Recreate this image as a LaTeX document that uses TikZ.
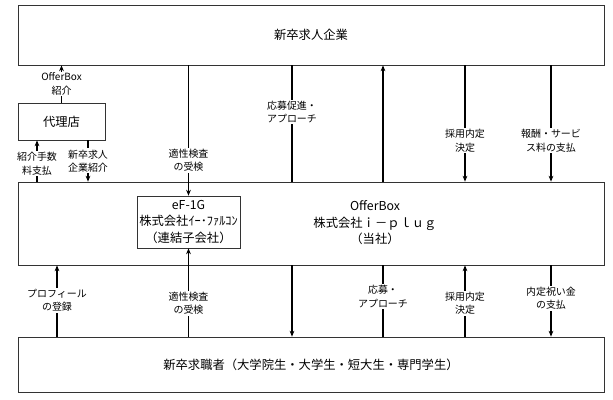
\documentclass[tikz,border=0pt]{standalone}
\usepackage{fontspec}
\setmainfont{Noto Sans CJK JP}
\usetikzlibrary{arrows.meta}

\begin{document}
\begin{tikzpicture}[x=0.03cm,y=-0.03cm,
  box/.style={draw=black!80,line width=0.6pt,inner sep=0pt,align=center,font=\fontsize{10.5}{14}\selectfont},
  flow/.style={line width=0.9pt},
  tip/.style={flow,-{Stealth[length=5pt,width=4pt]}},
  lbl/.style={fill=white,inner sep=1pt,align=center,font=\fontsize{8.5}{11.5}\selectfont}]
\useasboundingbox (0,0) rectangle (613,400);
\node[box,minimum width=17.58cm,minimum height=1.8cm] (firm) at (311,35) {新卒求人企業};
\node[box,minimum width=2.61cm,minimum height=1.11cm] (agent) at (61.5,121.5) {代理店};
\node[box,minimum width=17.58cm,minimum height=2.49cm] (iplug) at (311,223.5) {};
\node[align=center,font=\fontsize{10.5}{14}\selectfont] (iplugname) at (375,223) {OfferBox\\株式会社ｉ－ｐｌｕｇ\\（当社）};
\node[box,fill=white,minimum width=3.09cm,minimum height=1.56cm] (efc) at (188.5,222) {eF-1G\\株式会社ｲｰ･ﾌｧﾙｺﾝ\\（連結子会社）};
\node[box,minimum width=17.58cm,minimum height=1.65cm] (seeker) at (311,364.5) {新卒求職者（大学院生・大学生・短大生・専門学生）};
\coordinate (colL) at (37,0);
\coordinate (colR) at (88,0);
\coordinate (colP) at (57,0);
\coordinate (colA) at (292,0);
\coordinate (colB) at (383,0);
\coordinate (colC) at (465,0);
\coordinate (colD) at (551,0);
\draw[tip] (agent.north) -- node[lbl]{OfferBox\\紹介} (firm.south -| agent.north);
\draw[tip] (iplug.north -| colL) -- node[lbl,pos=0.43]{紹介手数\\料支払} (agent.south -| colL);
\draw[tip] (agent.south -| colR) -- node[lbl]{新卒求人\\企業紹介} (iplug.north -| colR);
\draw[tip] (firm.south -| efc.north) -- node[lbl,pos=0.73]{適性検査\\の受検} (efc.north);
\draw[flow] (firm.south -| colA) -- node[lbl,pos=0.4]{応募促進・\\アプローチ} (iplug.north -| colA);
\draw[tip] (iplug.north -| colB) -- (firm.south -| colB);
\draw[tip] (firm.south -| colC) -- node[lbl,pos=0.65]{採用内定\\決定} (iplug.north -| colC);
\draw[tip] (firm.south -| colD) -- node[lbl,pos=0.65]{報酬・サービ\\ス料の支払} (iplug.north -| colD);
\draw[tip] (seeker.north -| colP) -- node[lbl,pos=0.51]{プロフィール\\の登録} (iplug.south -| colP);
\draw[tip] (seeker.north -| efc.south) -- node[lbl,pos=0.38]{適性検査\\の受検} (efc.south);
\draw[tip] (iplug.south -| colA) -- (seeker.north -| colA);
\draw[flow] (iplug.south -| colB) -- node[lbl,pos=0.44]{応募・\\アプローチ} (seeker.north -| colB);
\draw[tip] (seeker.north -| colC) -- node[lbl,pos=0.47]{採用内定\\決定} (iplug.south -| colC);
\draw[tip] (iplug.south -| colD) -- node[lbl,pos=0.46]{内定祝い金\\の支払} (seeker.north -| colD);
\end{tikzpicture}
\end{document}
